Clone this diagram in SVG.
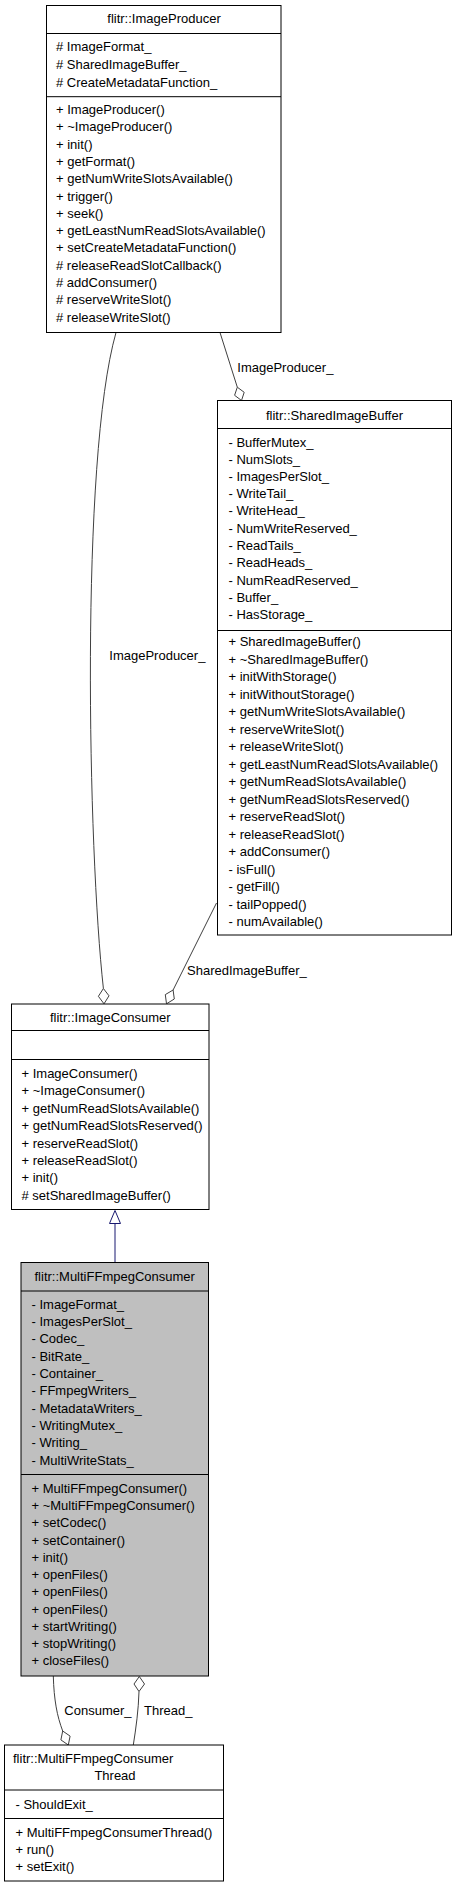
<svg xmlns="http://www.w3.org/2000/svg" width="457" height="1888" viewBox="0 0 457 1888">
<style>
text{font-family:"Liberation Sans",Arial,Helvetica,sans-serif;font-size:13px;fill:#000}
.t{text-anchor:middle}
.box{fill:#fff;stroke:#000;stroke-width:1}
.cur{fill:#bfbfbf;stroke:#000;stroke-width:1}
.sep{stroke:#000;stroke-width:1}
.e{fill:none;stroke:#404040;stroke-width:1}
.d{fill:#fff;stroke:#404040;stroke-width:1}
.inh{fill:none;stroke:#191970;stroke-width:1}
.tri{fill:#fff;stroke:#191970;stroke-width:1}
</style>
<rect width="457" height="1888" fill="#fff"/>
<g id="connectors">
<path class="e" d="M116,332.5 C80,460 88,850 103.4,988.5"/>
<polygon class="d" points="103.4,988.5 109,995.8 104,1003.8 98.4,996.3"/>
<path class="e" d="M220,332.5 L237.3,387.2"/>
<polygon class="d" points="237.3,387.2 244.2,392.3 241.5,400.5 234.6,395.3"/>
<path class="e" d="M216.5,903 L173.1,990"/>
<polygon class="d" points="173.1,990 174.3,999 166.5,1003.8 165.3,994.6"/>
<path class="inh" d="M115,1223.5 L115,1262.5"/>
<polygon class="tri" points="115,1210.5 120.5,1223.5 109.5,1223.5"/>
<path class="e" d="M139,1691.5 C138.5,1710 136,1728 133.3,1745"/>
<polygon class="d" points="139.3,1676.5 144.5,1684 139,1691.5 134,1684"/>
<path class="e" d="M53.3,1676 C54,1700 57,1716 62.7,1731"/>
<polygon class="d" points="62.7,1731 70.1,1736.1 68.3,1745 60.9,1739.9"/>
<text x="109.3" y="659.5">ImageProducer_</text>
<text x="237.3" y="371.8">ImageProducer_</text>
<text x="187" y="974.5">SharedImageBuffer_</text>
<text x="64.3" y="1714.5">Consumer_</text>
<text x="144" y="1714.5">Thread_</text>
</g>
<g id="ImageProducer">
<rect class="box" x="46.5" y="5.5" width="234.5" height="327"/>
<line class="sep" x1="46.5" y1="33.5" x2="281" y2="33.5"/>
<line class="sep" x1="46.5" y1="96.7" x2="281" y2="96.7"/>
<text class="t" x="164" y="22.8">flitr::ImageProducer</text>
<text x="56" y="51.2"># ImageFormat_</text>
<text x="56" y="68.8"># SharedImageBuffer_</text>
<text x="56" y="86.5"># CreateMetadataFunction_</text>
<text x="56" y="113.8">+ ImageProducer()</text>
<text x="56" y="131.1">+ ~ImageProducer()</text>
<text x="56" y="148.5">+ init()</text>
<text x="56" y="165.8">+ getFormat()</text>
<text x="56" y="183.1">+ getNumWriteSlotsAvailable()</text>
<text x="56" y="200.5">+ trigger()</text>
<text x="56" y="217.8">+ seek()</text>
<text x="56" y="235.1">+ getLeastNumReadSlotsAvailable()</text>
<text x="56" y="252.4">+ setCreateMetadataFunction()</text>
<text x="56" y="269.8"># releaseReadSlotCallback()</text>
<text x="56" y="287.1"># addConsumer()</text>
<text x="56" y="304.4"># reserveWriteSlot()</text>
<text x="56" y="321.8"># releaseWriteSlot()</text>
</g>
<g id="SharedImageBuffer">
<rect class="box" x="217.5" y="400.5" width="234" height="534.5"/>
<line class="sep" x1="217.5" y1="428.5" x2="451.5" y2="428.5"/>
<line class="sep" x1="217.5" y1="630.5" x2="451.5" y2="630.5"/>
<text class="t" x="334.5" y="419.5">flitr::SharedImageBuffer</text>
<text x="228.5" y="446.8">- BufferMutex_</text>
<text x="228.5" y="463.8">- NumSlots_</text>
<text x="228.5" y="481.2">- ImagesPerSlot_</text>
<text x="228.5" y="497.8">- WriteTail_</text>
<text x="228.5" y="515.2">- WriteHead_</text>
<text x="228.5" y="532.8">- NumWriteReserved_</text>
<text x="228.5" y="550.2">- ReadTails_</text>
<text x="228.5" y="567.2">- ReadHeads_</text>
<text x="228.5" y="584.5">- NumReadReserved_</text>
<text x="228.5" y="601.8">- Buffer_</text>
<text x="228.5" y="618.8">- HasStorage_</text>
<text x="228.5" y="646.2">+ SharedImageBuffer()</text>
<text x="228.5" y="663.7">+ ~SharedImageBuffer()</text>
<text x="228.5" y="681.2">+ initWithStorage()</text>
<text x="228.5" y="698.7">+ initWithoutStorage()</text>
<text x="228.5" y="716.2">+ getNumWriteSlotsAvailable()</text>
<text x="228.5" y="733.7">+ reserveWriteSlot()</text>
<text x="228.5" y="751.2">+ releaseWriteSlot()</text>
<text x="228.5" y="768.7">+ getLeastNumReadSlotsAvailable()</text>
<text x="228.5" y="786.2">+ getNumReadSlotsAvailable()</text>
<text x="228.5" y="803.7">+ getNumReadSlotsReserved()</text>
<text x="228.5" y="821.2">+ reserveReadSlot()</text>
<text x="228.5" y="838.7">+ releaseReadSlot()</text>
<text x="228.5" y="856.2">+ addConsumer()</text>
<text x="228.5" y="873.7">- isFull()</text>
<text x="228.5" y="891.2">- getFill()</text>
<text x="228.5" y="908.7">- tailPopped()</text>
<text x="228.5" y="926.2">- numAvailable()</text>
</g>
<g id="ImageConsumer">
<rect class="box" x="11.5" y="1004" width="197.5" height="205.5"/>
<line class="sep" x1="11.5" y1="1030.5" x2="209" y2="1030.5"/>
<line class="sep" x1="11.5" y1="1059.5" x2="209" y2="1059.5"/>
<text class="t" x="110.3" y="1021.8">flitr::ImageConsumer</text>
<text x="21.5" y="1077.8">+ ImageConsumer()</text>
<text x="21.5" y="1095.3">+ ~ImageConsumer()</text>
<text x="21.5" y="1112.8">+ getNumReadSlotsAvailable()</text>
<text x="21.5" y="1130.2">+ getNumReadSlotsReserved()</text>
<text x="21.5" y="1147.6">+ reserveReadSlot()</text>
<text x="21.5" y="1165">+ releaseReadSlot()</text>
<text x="21.5" y="1182.4">+ init()</text>
<text x="21.5" y="1200">#&#160;setSharedImageBuffer()</text>
</g>
<g id="MultiFFmpegConsumer">
<rect class="cur" x="21" y="1262.5" width="187.5" height="413.5"/>
<line class="sep" x1="21" y1="1291" x2="208.5" y2="1291"/>
<line class="sep" x1="21" y1="1474.5" x2="208.5" y2="1474.5"/>
<text class="t" x="114.7" y="1281.2">flitr::MultiFFmpegConsumer</text>
<text x="31.5" y="1308.8">- ImageFormat_</text>
<text x="31.5" y="1326.1">- ImagesPerSlot_</text>
<text x="31.5" y="1343.4">- Codec_</text>
<text x="31.5" y="1360.7">- BitRate_</text>
<text x="31.5" y="1378">- Container_</text>
<text x="31.5" y="1395.3">- FFmpegWriters_</text>
<text x="31.5" y="1412.6">- MetadataWriters_</text>
<text x="31.5" y="1429.9">- WritingMutex_</text>
<text x="31.5" y="1447.2">- Writing_</text>
<text x="31.5" y="1464.5">- MultiWriteStats_</text>
<text x="31.5" y="1492.8">+ MultiFFmpegConsumer()</text>
<text x="31.5" y="1510">+ ~MultiFFmpegConsumer()</text>
<text x="31.5" y="1527.3">+ setCodec()</text>
<text x="31.5" y="1544.5">+ setContainer()</text>
<text x="31.5" y="1561.8">+ init()</text>
<text x="31.5" y="1579">+ openFiles()</text>
<text x="31.5" y="1596.2">+ openFiles()</text>
<text x="31.5" y="1613.5">+ openFiles()</text>
<text x="31.5" y="1630.7">+ startWriting()</text>
<text x="31.5" y="1648">+ stopWriting()</text>
<text x="31.5" y="1665.2">+ closeFiles()</text>
</g>
<g id="MultiFFmpegConsumerThread">
<rect class="box" x="4.5" y="1745" width="219" height="136"/>
<line class="sep" x1="4.5" y1="1790" x2="223.5" y2="1790"/>
<line class="sep" x1="4.5" y1="1818.5" x2="223.5" y2="1818.5"/>
<text x="13" y="1762.8">flitr::MultiFFmpegConsumer</text>
<text class="t" x="115" y="1779.5">Thread</text>
<text x="15.5" y="1808.8">- ShouldExit_</text>
<text x="15.5" y="1836.8">+ MultiFFmpegConsumerThread()</text>
<text x="15.5" y="1853.5">+ run()</text>
<text x="15.5" y="1871.2">+ setExit()</text>
</g>
</svg>
